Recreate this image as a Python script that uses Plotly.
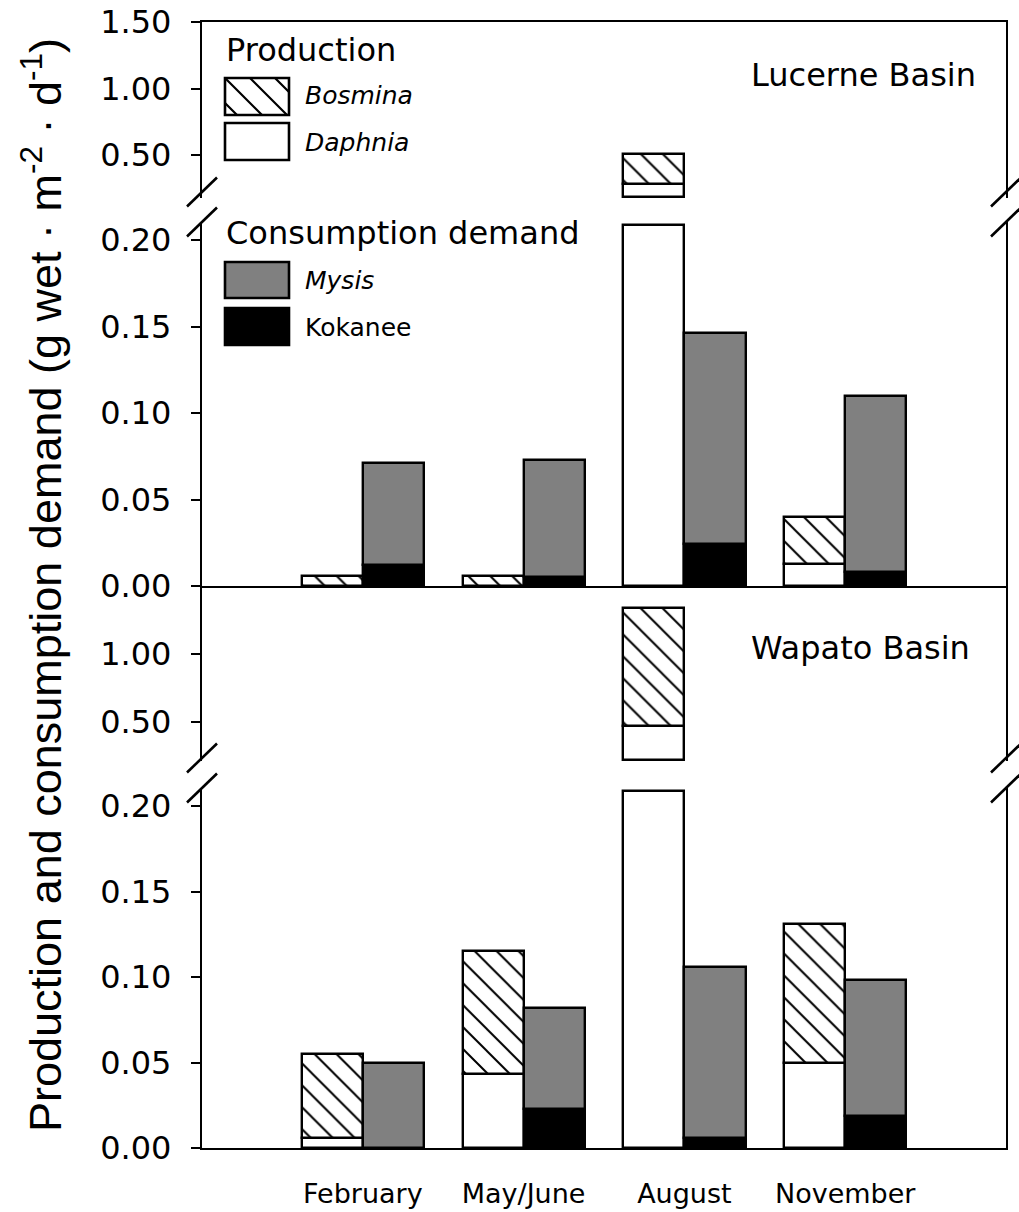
import plotly.graph_objects as go

W, H = 1019, 1212
FONT = "DejaVu Sans"
TITLE_FONT = "Liberation Sans"

months = ["February", "May/June", "August", "November"]

# Lucerne Basin, g wet · m^-2 · d^-1
luc_daphnia = [0.0, 0.0, 0.28, 0.013]
luc_bosmina = [0.006, 0.006, 0.23, 0.027]
luc_kokanee = [0.012, 0.005, 0.024, 0.008]
luc_mysis = [0.059, 0.068, 0.122, 0.102]

# Wapato Basin, g wet · m^-2 · d^-1
wap_daphnia = [0.006, 0.043, 0.47, 0.050]
wap_bosmina = [0.049, 0.072, 0.87, 0.081]
wap_kokanee = [0.0, 0.023, 0.006, 0.019]
wap_mysis = [0.050, 0.059, 0.100, 0.079]

upper_ticks = [0.5, 1.0, 1.5]
lower_ticks = [0.0, 0.05, 0.10, 0.15, 0.20]

# ---- page geometry (pixels) ----
X0, X1 = 202, 1006
BAR_W = 0.38
LW = 2.4


def px(x):
    return x / W


def py(y):
    return 1 - y / H


def segment(top, bottom, ref_val, ref_px, ppu):
    """domain + value range for one piece of a broken axis"""
    rng = [ref_val - (bottom - ref_px) / ppu, ref_val + (ref_px - top) / ppu]
    return dict(domain=[py(bottom), py(top)], range=rng, ppu=ppu)


segs = {
    "luc_up": segment(22, 198, 1.5, 22, 133.0),
    "luc_lo": segment(222, 586, 0.0, 586, 1730.0),
    "wap_up": segment(586, 761, 1.0, 654, 136.0),
    "wap_lo": segment(788, 1148, 0.0, 1148, 1710.0),
}

fig = go.Figure()

hatch = dict(shape="\\", fgcolor="black", bgcolor="white", size=15.5, solidity=0.13, fillmode="replace")
outline = dict(color="black", width=LW)


def stacked(xs, layers, seg, xa, ya):
    """draw stacked bars clipped to one axis piece; layers = [(values, style), ...] bottom-up"""
    lo, hi = seg["range"]
    pad = 1.5 / seg["ppu"]
    floor = lo + pad if lo > 0 else lo
    cum = [0.0] * len(xs)
    for vals, style in layers:
        bases, heights = [], []
        for i, v in enumerate(vals):
            b, t = cum[i], cum[i] + v
            b2, t2 = max(b, floor), min(t, hi - 2 * pad)
            if v > 0 and t2 > b2:
                bases.append(b2)
                heights.append(t2 - b2)
            else:
                bases.append(None)
                heights.append(None)
            cum[i] = t
        fig.add_trace(go.Bar(x=xs, y=heights, base=bases, width=BAR_W, xaxis=xa, yaxis=ya,
                             marker=dict(line=outline, **style), showlegend=False,
                             hoverinfo="skip"))


pos = [i + 1 for i in range(len(months))]
prod_x = [p - BAR_W / 2 for p in pos]
cons_x = [p + BAR_W / 2 for p in pos]

white = dict(color="white")
hatched = dict(color="white", pattern=hatch)
gray = dict(color="#808080")
black = dict(color="black")

panels = [
    ("luc_up", "x3", "y", luc_daphnia, luc_bosmina, luc_kokanee, luc_mysis),
    ("luc_lo", "x2", "y2", luc_daphnia, luc_bosmina, luc_kokanee, luc_mysis),
    ("wap_up", "x4", "y3", wap_daphnia, wap_bosmina, wap_kokanee, wap_mysis),
    ("wap_lo", "x", "y4", wap_daphnia, wap_bosmina, wap_kokanee, wap_mysis),
]
for key, xa, ya, daph, bosm, koka, mysi in panels:
    stacked(prod_x, [(daph, white), (bosm, hatched)], segs[key], xa, ya)
    stacked(cons_x, [(koka, black), (mysi, gray)], segs[key], xa, ya)

tickfont = dict(family=FONT, size=32, color="black")
common_y = dict(showline=True, linecolor="black", linewidth=LW, mirror=True, ticks="outside",
                ticklen=9, tickwidth=LW, tickcolor="black", showgrid=False, zeroline=False,
                tickfont=tickfont, ticklabelstandoff=13, fixedrange=True, automargin=False)


def yax(key, anchor, ticks):
    s = segs[key]
    return dict(domain=s["domain"], range=s["range"], anchor=anchor, tickvals=ticks,
                ticktext=["%.2f" % t for t in ticks], **common_y)


xdom = [px(X0), px(X1)]
common_x = dict(domain=xdom, range=[0, 5], showgrid=False, zeroline=False, fixedrange=True,
                linecolor="black", linewidth=LW, ticks="", automargin=False)

fig.update_layout(
    width=W, height=H, autosize=False,
    margin=dict(l=0, r=0, t=0, b=0, pad=0),
    paper_bgcolor="white", plot_bgcolor="white",
    barmode="overlay", bargap=0,
    font=dict(family=FONT, color="black"),
    xaxis=dict(anchor="y4", showline=True, tickvals=pos, ticktext=months,
               tickfont=dict(family=FONT, size=27, color="black"), ticklabelstandoff=20,
               **common_x),
    xaxis2=dict(anchor="y2", matches="x", showline=True, showticklabels=False, **common_x),
    xaxis3=dict(anchor="y", matches="x", showline=True, side="top", showticklabels=False, **common_x),
    xaxis4=dict(anchor="y3", matches="x", showline=False, showticklabels=False, **common_x),
    yaxis=yax("luc_up", "x3", upper_ticks),
    yaxis2=yax("luc_lo", "x2", lower_ticks),
    yaxis3=yax("wap_up", "x4", upper_ticks[:2]),
    yaxis4=yax("wap_lo", "x", lower_ticks),
)

shapes = []

# axis-break slashes on both sides of each panel
for yc in (192, 222, 758, 788):
    for xc in (X0, X1):
        shapes.append(dict(type="line", xref="paper", yref="paper",
                           x0=px(xc - 15), y0=py(yc + 14.5), x1=px(xc + 15), y1=py(yc - 14.5),
                           line=dict(color="black", width=2.6)))


def swatch(x0, y0, x1, y1, fill, hatched_box=False):
    shapes.append(dict(type="rect", xref="paper", yref="paper", x0=px(x0), y0=py(y1),
                       x1=px(x1), y1=py(y0), fillcolor=fill, line=dict(color="black", width=2.6)))
    if hatched_box:
        step = 25.0
        path = ""
        c = (x0 - y0) - step * 3
        while c < x1 - y0:
            ya = max(y0, x0 - c)
            yb = min(y1, x1 - c)
            if yb > ya:
                path += "M%.5f,%.5f L%.5f,%.5f " % (px(ya + c), py(ya), px(yb + c), py(yb))
            c += step
        shapes.append(dict(type="path", xref="paper", yref="paper", path=path.strip(),
                           line=dict(color="black", width=2.2)))


swatch(225, 78, 289, 115, "white", hatched_box=True)
swatch(225, 123, 289, 160, "white")
swatch(225, 262, 289, 298, "#808080")
swatch(225, 308, 289, 345, "black")

fig.update_layout(shapes=shapes)


def label(text, x, y, size, xanchor="left", italic=False, angle=0):
    fig.add_annotation(text=text, xref="paper", yref="paper", x=px(x), y=py(y),
                       xanchor=xanchor, yanchor="middle", showarrow=False, textangle=angle,
                       font=dict(family=FONT, size=size, color="black",
                                 style="italic" if italic else "normal"))


label("Production", 224, 50, 32)
label("Bosmina", 303, 96, 25, italic=True)
label("Daphnia", 303, 142, 25, italic=True)
label("Consumption demand", 224, 233, 32)
label("Mysis", 303, 280, 25, italic=True)
label("Kokanee", 303, 327, 25)
label("Lucerne Basin", 978, 75, 32, xanchor="right")
label("Wapato Basin", 972, 648, 32, xanchor="right")

fig.add_annotation(
    text="Production and consumption demand (g wet · m<sup>-2</sup> · d<sup>-1</sup>)",
    xref="paper", yref="paper", x=px(42), y=py(585), xanchor="center", yanchor="middle",
    showarrow=False, textangle=-90, font=dict(family=TITLE_FONT, size=45, color="black"))

fig.write_html("out.html")
